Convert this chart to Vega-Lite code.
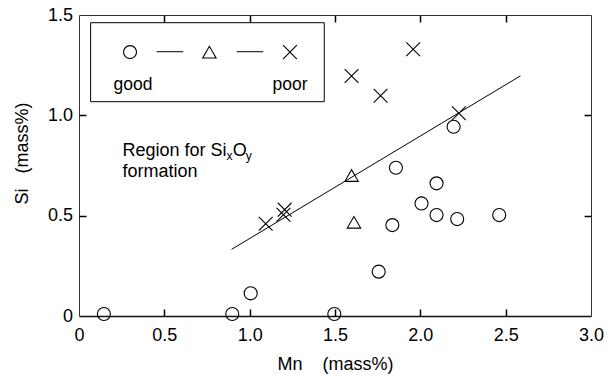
{
  "$schema": "https://vega.github.io/schema/vega-lite/v6.json",
  "width": 512,
  "height": 301,
  "autosize": {"type": "none"},
  "padding": {"left": 79, "top": 15, "right": 24, "bottom": 60},
  "background": "white",
  "config": {
    "view": {"stroke": null},
    "font": "Liberation Sans",
    "axis": {
      "grid": false,
      "domainColor": "#333",
      "labelColor": "black",
      "labelFontSize": 18,
      "labelFont": "Liberation Sans",
      "titleFont": "Liberation Sans",
      "titleFontSize": 18,
      "titleFontWeight": "normal",
      "titleColor": "black",
      "labelFlush": false,
      "labelOverlap": false
    }
  },
  "resolve": {"axis": {"x": "independent", "y": "independent"}},
  "layer": [
    {
      "data": {"values": [{"x1": 0.068, "x2": 1.437, "y1": 1.068, "y2": 1.4616}]},
      "mark": {"type": "rect", "fill": "white", "stroke": "black", "strokeWidth": 1},
      "encoding": {
        "x": {"field": "x1", "type": "quantitative", "scale": {"domain": [0, 3], "nice": false, "zero": false},
              "axis": {"orient": "top", "offset": -301, "values": [0.5, 1, 1.5, 2, 2.5], "ticks": true, "tickSize": 7, "tickColor": "black", "tickWidth": 1.5, "domain": false, "labels": false, "title": null, "zindex": 1}},
        "x2": {"field": "x2"},
        "y": {"field": "y1", "type": "quantitative", "scale": {"domain": [0, 1.5], "nice": false, "zero": false},
              "axis": {"orient": "right", "offset": -512, "values": [0.5, 1], "ticks": true, "tickSize": 7, "tickColor": "black", "tickWidth": 1.5, "domain": false, "labels": false, "title": null, "zindex": 1}},
        "y2": {"field": "y2"}
      }
    },
    {
      "data": {"values": [{"mn": 0.894, "si": 0.332}, {"mn": 2.587, "si": 1.197}]},
      "mark": {"type": "line", "color": "black", "strokeWidth": 1},
      "encoding": {
        "x": {"field": "mn", "type": "quantitative", "scale": {"domain": [0, 3], "nice": false, "zero": false},
              "axis": {"orient": "bottom", "offset": -301, "values": [0.5, 1, 1.5, 2, 2.5], "ticks": true, "tickSize": 7, "tickColor": "black", "tickWidth": 1.5, "domain": true, "labels": false, "title": null, "zindex": 1}},
        "y": {"field": "si", "type": "quantitative", "scale": {"domain": [0, 1.5], "nice": false, "zero": false},
              "axis": {"orient": "left", "offset": -512, "values": [0.5, 1], "ticks": true, "tickSize": 7, "tickColor": "black", "tickWidth": 1.5, "domain": true, "labels": false, "title": null, "zindex": 1}}
      }
    },
    {
      "data": {"values": [
        {"mn": 0.146, "si": 0.01, "cls": "good"},
        {"mn": 0.898, "si": 0.01, "cls": "good"},
        {"mn": 1.006, "si": 0.113, "cls": "good"},
        {"mn": 1.496, "si": 0.01, "cls": "good"},
        {"mn": 1.756, "si": 0.221, "cls": "good"},
        {"mn": 1.836, "si": 0.453, "cls": "good"},
        {"mn": 2.007, "si": 0.561, "cls": "good"},
        {"mn": 2.095, "si": 0.503, "cls": "good"},
        {"mn": 2.216, "si": 0.483, "cls": "good"},
        {"mn": 2.462, "si": 0.503, "cls": "good"},
        {"mn": 2.095, "si": 0.661, "cls": "good"},
        {"mn": 1.857, "si": 0.739, "cls": "good"},
        {"mn": 2.195, "si": 0.943, "cls": "good"},
        {"mn": 1.597, "si": 0.70, "cls": "mid"},
        {"mn": 1.611, "si": 0.467, "cls": "mid"},
        {"mn": 1.094, "si": 0.46, "cls": "poor"},
        {"mn": 1.205, "si": 0.53, "cls": "poor"},
        {"mn": 1.198, "si": 0.505, "cls": "poor"},
        {"mn": 1.597, "si": 1.196, "cls": "poor"},
        {"mn": 1.767, "si": 1.098, "cls": "poor"},
        {"mn": 1.958, "si": 1.329, "cls": "poor"},
        {"mn": 2.226, "si": 1.010, "cls": "poor"}
      ]},
      "mark": {"type": "point", "filled": false, "color": "black", "strokeWidth": 1.1, "opacity": 1},
      "encoding": {
        "x": {"field": "mn", "type": "quantitative", "scale": {"domain": [0, 3], "nice": false, "zero": false},
              "axis": {"orient": "bottom", "values": [0, 0.5, 1, 1.5, 2, 2.5, 3],
                       "labelExpr": "datum.value == 0 ? '0' : format(datum.value, '.1f')",
                       "ticks": false, "tickSize": 0, "labelPadding": 10, "domainColor": "#111", "domainWidth": 1.3,
                       "title": "Mn\u00a0\u00a0\u00a0\u00a0(mass%)", "titleY": 53, "titleBaseline": "alphabetic"}},
        "y": {"field": "si", "type": "quantitative", "scale": {"domain": [0, 1.5], "nice": false, "zero": false},
              "axis": {"orient": "left", "values": [0, 0.5, 1, 1.5],
                       "labelExpr": "datum.value == 0 ? '0' : format(datum.value, '.1f')",
                       "ticks": false, "tickSize": 0, "labelPadding": 6.5,
                       "title": "Si\u00a0\u00a0\u00a0(mass%)", "titleX": -52, "titleY": 138, "titleBaseline": "alphabetic"}},
        "shape": {"field": "cls", "type": "nominal",
                  "scale": {"domain": ["good", "mid", "poor"], "range": ["circle", "triangle-up", "M-1,-1L1,1M1,-1L-1,1"]},
                  "legend": null},
        "size": {"field": "cls", "type": "nominal",
                 "scale": {"domain": ["good", "mid", "poor"], "range": [170, 190, 170]},
                 "legend": null}
      }
    },
    {
      "data": {"values": [
        {"lx": 0.299, "ly": 1.315, "cls": "good"},
        {"lx": 0.764, "ly": 1.315, "cls": "mid"},
        {"lx": 1.236, "ly": 1.315, "cls": "poor"}
      ]},
      "mark": {"type": "point", "filled": false, "color": "black", "strokeWidth": 1.1, "opacity": 1},
      "encoding": {
        "x": {"field": "lx", "type": "quantitative", "scale": {"domain": [0, 3], "nice": false, "zero": false}, "axis": null},
        "y": {"field": "ly", "type": "quantitative", "scale": {"domain": [0, 1.5], "nice": false, "zero": false}, "axis": null},
        "shape": {"field": "cls", "type": "nominal", "legend": null},
        "size": {"field": "cls", "type": "nominal", "legend": null}
      }
    },
    {
      "data": {"values": [
        {"a": 0.455, "b": 0.611, "ly": 1.317},
        {"a": 0.924, "b": 1.080, "ly": 1.317}
      ]},
      "mark": {"type": "rule", "color": "black", "strokeWidth": 1},
      "encoding": {
        "x": {"field": "a", "type": "quantitative", "scale": {"domain": [0, 3], "nice": false, "zero": false}, "axis": null},
        "x2": {"field": "b"},
        "y": {"field": "ly", "type": "quantitative", "scale": {"domain": [0, 1.5], "nice": false, "zero": false}, "axis": null}
      }
    },
    {
      "data": {"values": [
        {"lx": 0.316, "ly": 1.126, "t": "good"},
        {"lx": 1.236, "ly": 1.126, "t": "poor"}
      ]},
      "mark": {"type": "text", "align": "center", "baseline": "alphabetic", "fontSize": 17.5, "font": "Liberation Sans", "color": "black"},
      "encoding": {
        "x": {"field": "lx", "type": "quantitative", "scale": {"domain": [0, 3], "nice": false, "zero": false}, "axis": null},
        "y": {"field": "ly", "type": "quantitative", "scale": {"domain": [0, 1.5], "nice": false, "zero": false}, "axis": null},
        "text": {"field": "t"}
      }
    },
    {
      "data": {"values": [
        {"lx": 0.255, "ly": 0.797, "t": "Region for Si"},
        {"lx": 0.901, "ly": 0.797, "t": "O"},
        {"lx": 0.255, "ly": 0.694, "t": "formation"}
      ]},
      "mark": {"type": "text", "align": "left", "baseline": "alphabetic", "fontSize": 18, "font": "Liberation Sans", "color": "black"},
      "encoding": {
        "x": {"field": "lx", "type": "quantitative", "scale": {"domain": [0, 3], "nice": false, "zero": false}, "axis": null},
        "y": {"field": "ly", "type": "quantitative", "scale": {"domain": [0, 1.5], "nice": false, "zero": false}, "axis": null},
        "text": {"field": "t"}
      }
    },
    {
      "data": {"values": [
        {"lx": 0.864, "ly": 0.775, "t": "x"},
        {"lx": 0.977, "ly": 0.775, "t": "y"}
      ]},
      "mark": {"type": "text", "align": "left", "baseline": "alphabetic", "fontSize": 12, "font": "Liberation Sans", "color": "black"},
      "encoding": {
        "x": {"field": "lx", "type": "quantitative", "scale": {"domain": [0, 3], "nice": false, "zero": false}, "axis": null},
        "y": {"field": "ly", "type": "quantitative", "scale": {"domain": [0, 1.5], "nice": false, "zero": false}, "axis": null},
        "text": {"field": "t"}
      }
    }
  ]
}
